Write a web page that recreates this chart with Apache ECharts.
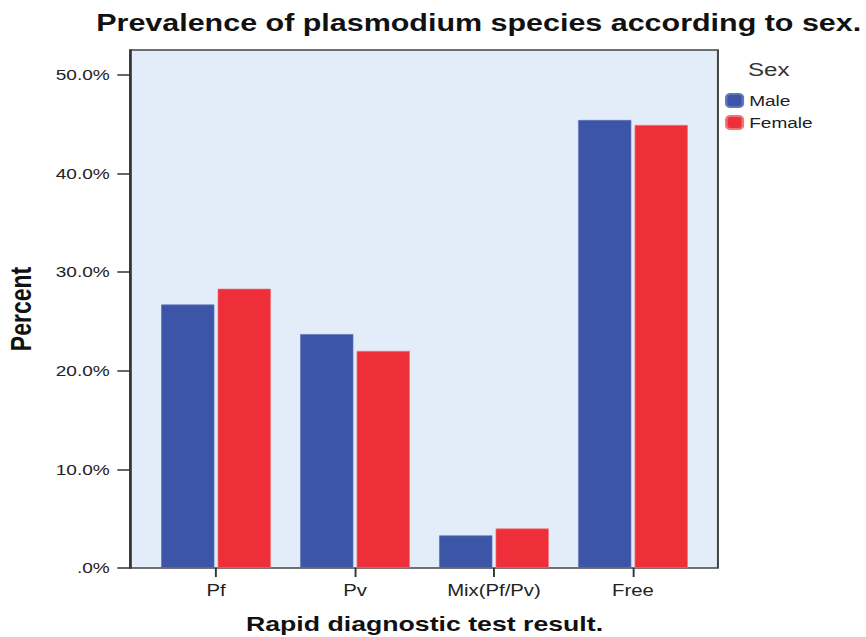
<!DOCTYPE html>
<html><head><meta charset="utf-8">
<script src="https://cdn.jsdelivr.net/npm/echarts@6/dist/echarts.min.js"></script>
<style>
html,body{margin:0;padding:0;background:#fff;overflow:hidden;width:866px;height:637px}
#c{width:682px;height:637px;transform:scaleX(1.2698);transform-origin:0 0}
</style>
</head><body><div id="c"></div>
<script>
const categories = ['Pf', 'Pv', 'Mix(Pf/Pv)', 'Free'];
const maleValues = [26.7, 23.7, 3.3, 45.4];
const femaleValues = [28.3, 22.0, 4.0, 44.9];
const yTicks = [0, 10, 20, 30, 40, 50];

const chart = echarts.init(document.getElementById('c'), null, {renderer: 'svg'});
const YMAX = 52.5;
const F = 'Liberation Sans, Arial, sans-serif';
chart.setOption({
  animation: false,
  backgroundColor: '#fff',
  title: [{
    text: 'Prevalence of plasmodium species according to sex.',
    left: 372, top: 6, textAlign: 'center',
    textStyle: {fontFamily: F, fontWeight: 'bold', fontSize: 24, color: '#111'}
  }, {
    text: 'Sex', left: 589, top: 60, padding: 0,
    textStyle: {fontFamily: F, fontWeight: 'normal', fontSize: 19, color: '#333'}
  }],
  legend: {
    orient: 'vertical', left: 571, top: 93, padding: 0, itemWidth: 13, itemHeight: 13, itemGap: 7,
    textStyle: {fontFamily: F, fontSize: 15, color: '#222'},
    data: ['Male', 'Female']
  },
  grid: [
    {left: 102.4, top: 50, width: 463, height: 518, show: true, backgroundColor: '#e2edf9', borderColor: '#444', borderWidth: 1.6, outerBoundsMode: 'none', containLabel: false},
    {left: 115.4, top: 50, width: 437.8, height: 518, outerBoundsMode: 'none', containLabel: false}
  ],
  xAxis: [
    {type: 'value', gridIndex: 0, show: false, min: 0, max: 1},
    {type: 'category', gridIndex: 1, data: categories,
      axisLine: {show: false},
      axisTick: {show: true, alignWithLabel: true, length: 9, lineStyle: {color: '#333', width: 1.5}},
      axisLabel: {fontFamily: F, fontSize: 16, color: '#222', margin: 14},
      name: 'Rapid diagnostic test result.', nameLocation: 'middle', nameGap: 45,
      nameTextStyle: {fontFamily: F, fontWeight: 'bold', fontSize: 21, color: '#111'}
    }
  ],
  yAxis: [
    {type: 'value', gridIndex: 0, min: 0, max: YMAX,
      axisLine: {show: true, lineStyle: {color: '#333', width: 1.6}},
      axisTick: {show: true, length: 10, customValues: yTicks, lineStyle: {color: '#333', width: 1.5}},
      axisLabel: {customValues: yTicks, fontFamily: F, fontSize: 15, color: '#222', margin: 16,
        formatter: v => v === 0 ? '.0%' : v.toFixed(1) + '%'},
      splitLine: {show: false},
      name: 'Percent', nameLocation: 'middle', nameGap: 74,
      nameTextStyle: {fontFamily: F, fontWeight: 'bold', fontSize: 23, color: '#111'}
    },
    {type: 'value', gridIndex: 1, min: 0, max: YMAX, show: false}
  ],
  series: [
    {name: 'Male', type: 'bar', xAxisIndex: 1, yAxisIndex: 1, data: maleValues,
      itemStyle: {color: '#3c55a7', borderColor: '#6175b8', borderWidth: 0.6},
      barCategoryGap: '21%', barGap: '6%'},
    {name: 'Female', type: 'bar', xAxisIndex: 1, yAxisIndex: 1, data: femaleValues,
      itemStyle: {color: '#ee2e38', borderColor: '#f2747a', borderWidth: 0.6},
      barCategoryGap: '21%', barGap: '6%'}
  ]
});
</script></body></html>
